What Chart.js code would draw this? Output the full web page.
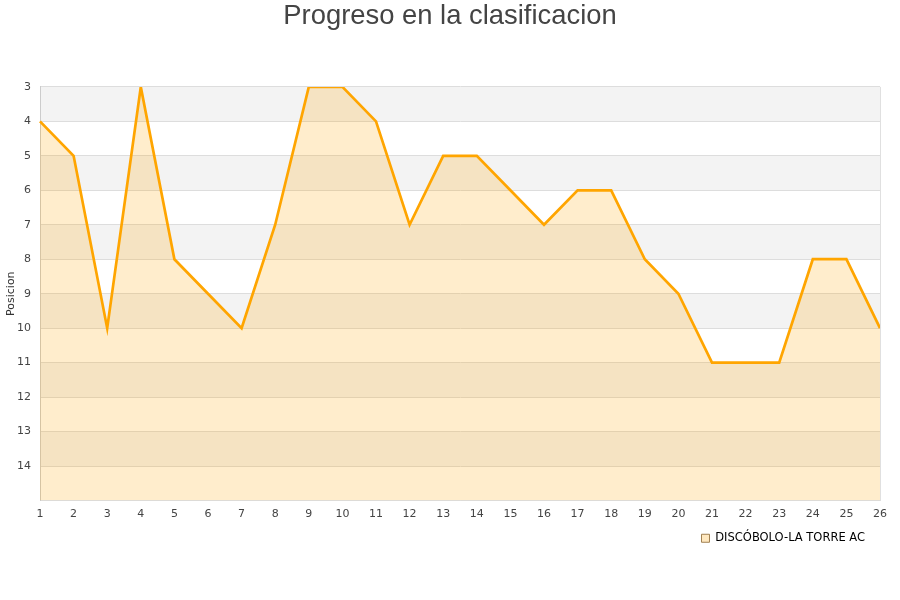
<!DOCTYPE html>
<html>
<head>
<meta charset="utf-8">
<script src="https://cdn.jsdelivr.net/npm/chart.js@4.4.0/dist/chart.umd.min.js"></script>
<style>
html,body{margin:0;padding:0;background:#fff;}
#c{display:block;}
</style>
</head>
<body>
<canvas id="c" width="900" height="600"></canvas>
<script>
const jornadas = ['1','2','3','4','5','6','7','8','9','10','11','12','13','14','15','16','17','18','19','20','21','22','23','24','25','26'];
const posiciones = [4,5,10,3,8,9,10,7,3,3,4,7,5,5,6,7,6,6,8,9,11,11,11,8,8,10];
const equipo = 'DISCÓBOLO-LA TORRE AC';
const tituloGrafico = 'Progreso en la clasificacion';
const tituloEjeY = 'Posicion';
const posMin = 3, posMax = 15;

const bandsPlugin = {
  id: 'bands',
  afterLayout(chart) {
    if (chart.titleBlock) {
      chart.titleBlock.right = chart.width;
    }
  },
  beforeDraw(chart) {
    const {ctx, chartArea: a, scales: {y}} = chart;
    ctx.save();
    ctx.fillStyle = '#ffffff';
    ctx.fillRect(a.left, a.top, a.right - a.left, a.bottom - a.top);
    for (let v = posMin; v < posMax; v += 2) {
      const y1 = y.getPixelForValue(v), y2 = y.getPixelForValue(v + 1);
      ctx.fillStyle = '#f3f3f3';
      ctx.fillRect(a.left, Math.min(y1, y2), a.right - a.left, Math.abs(y2 - y1));
    }
    ctx.restore();
  },
  afterDraw(chart) {
    const {ctx, chartArea: a} = chart;
    ctx.save();
    ctx.strokeStyle = '#e0e0e0';
    ctx.lineWidth = 1;
    ctx.beginPath();
    ctx.moveTo(a.right + 0.5, a.top);
    ctx.lineTo(a.right + 0.5, a.bottom);
    ctx.stroke();
    ctx.restore();
  }
};

new Chart(document.getElementById('c'), {
  type: 'line',
  data: {
    labels: jornadas,
    datasets: [{
      label: equipo,
      data: posiciones,
      borderColor: '#ffa500',
      backgroundColor: 'rgba(255,165,0,0.2)',
      borderWidth: 2.7,
      pointRadius: 0,
      tension: 0,
      fill: {value: posMax}
    }]
  },
  options: {
    responsive: false,
    animation: false,
    devicePixelRatio: 1,
    layout: {padding: {left: 0, right: 20, top: 0, bottom: 46}},
    plugins: {
      title: {
        display: true,
        text: tituloGrafico,
        color: '#444',
        font: {family: 'Liberation Sans, Arial, sans-serif', size: 27.4, weight: 'normal'},
        padding: {top: 0, bottom: 54}
      },
      legend: {
        position: 'bottom',
        align: 'end',
        labels: {
          color: '#111',
          font: {family: 'DejaVu Sans, sans-serif', size: 11.5},
          boxWidth: 8,
          boxHeight: 8,
          padding: 15,
          generateLabels(chart) {
            const ds = chart.data.datasets[0];
            return [{text: ds.label, fillStyle: 'rgba(255,165,0,0.25)', strokeStyle: '#a08050', lineWidth: 1, datasetIndex: 0}];
          }
        }
      },
      tooltip: {enabled: false}
    },
    scales: {
      x: {
        type: 'category',
        offset: false,
        afterFit(s) { s.height = 17; },
        grid: {display: false},
        border: {color: '#dddddd'},
        ticks: {
          color: '#444',
          font: {family: 'DejaVu Sans, sans-serif', size: 11},
          maxRotation: 0,
          autoSkip: false,
          padding: -1
        }
      },
      y: {
        reverse: true,
        min: posMin,
        max: posMax,
        afterFit(s) { s.width = 40; },
        title: {
          display: true,
          text: tituloEjeY,
          color: '#333',
          font: {family: 'DejaVu Sans, sans-serif', size: 11},
          padding: {top: 5, bottom: 0}
        },
        grid: {color: '#dddddd', drawTicks: false},
        border: {color: '#cccccc'},
        ticks: {
          stepSize: 1,
          color: '#444',
          font: {family: 'DejaVu Sans, sans-serif', size: 11},
          padding: 9,
          callback(v) { return v >= posMax ? '' : v; }
        }
      }
    }
  },
  plugins: [bandsPlugin]
});
</script>
</body>
</html>
